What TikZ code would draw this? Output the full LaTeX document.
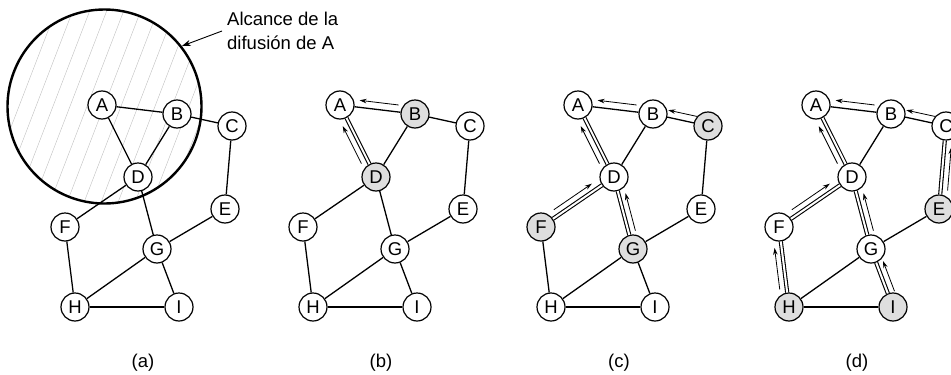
\documentclass[tikz,border=0pt]{standalone}
\usepackage{fontspec}
\setmainfont{Liberation Sans}
\usetikzlibrary{arrows.meta, calc}

\tikzset{
  stn/.style={draw, circle, line width=1.2pt, fill=white, minimum size=28pt, inner sep=0pt},
  lit/.style={fill=black!13},
  edge/.style={line width=1.3pt},
  trail/.style={double, double distance=2pt, line width=1.1pt},
  msgarrow/.style={line width=0.8pt, -{Stealth[length=7pt,width=4.5pt]}},
  hatch/.style={gray!50, line width=0.4pt},
  % nodes reached in each step
  bB/.style={lit}, bD/.style={lit},
  cC/.style={lit}, cF/.style={lit}, cG/.style={lit},
  dE/.style={lit}, dH/.style={lit}, dI/.style={lit},
  % links that carried the packet
  bAD/.style={trail},
  cAD/.style={trail}, cDF/.style={trail}, cDG/.style={trail},
  dAD/.style={trail}, dDF/.style={trail}, dDG/.style={trail},
  dFH/.style={trail}, dGI/.style={trail}, dCE/.style={trail},
}

\newcommand\msg[3]{\draw[msgarrow] ($(#1)!.23!(#2)!7pt!#3:(#2)$) -- ($(#1)!.75!(#2)!7pt!#3:(#2)$);}

\begin{document}
\begin{tikzpicture}[x=1pt, y=-1pt, font=\fontsize{18.5}{24}\selectfont]
  \useasboundingbox (0,0) rectangle (951,375);
  \clip (0,0) rectangle (951,375);
  % hatched reach of the broadcast
  \begin{scope}
    \clip (104.5,106.5) circle [radius=97pt];
    \foreach \k in {-9,...,9}
      \draw[hatch] (66+17*\k,205) -- (143+17*\k,5);
  \end{scope}
  \node[draw, circle, line width=2.4pt, minimum size=194pt, inner sep=0pt] (reach) at (104.5,106.5) {};
  \node[anchor=north west, align=left, inner sep=0pt] (note) at (227,12) {Alcance de la\\difusión de A};
  \draw[-{Stealth[length=9pt,width=6pt]}, line width=0.9pt] ([xshift=-5pt]note.west) -- (reach.38);

  \foreach \p/\dx in {a/0,b/238,c/476,d/714} {
    \begin{scope}[xshift=\dx pt]
      \foreach \n/\x/\y in {A/102/105,B/177/114,C/232/126,D/138/177,E/225/209,
                            F/65/227,G/157/249,H/75/307,I/179/307}
        \node[stn, \p\n/.try] (\p\n) at (\x,\y) {\n};
      \foreach \a/\b in {A/B,A/D,B/D,B/C,C/E,D/F,D/G,E/G,F/H,G/H,G/I,H/I}
        \draw[edge, \p\a\b/.try] (\p\a) -- (\p\b);
      \node (\p cap) at (143,363) {(\p)};
    \end{scope}
  }

  % packet copies on their way
  \foreach \p in {b,c,d} {\msg{\p B}{\p A}{-90} \msg{\p D}{\p A}{90}}
  \foreach \p in {c,d} {\msg{\p C}{\p B}{-90} \msg{\p F}{\p D}{90} \msg{\p G}{\p D}{-90}}
  \msg{dH}{dF}{90} \msg{dI}{dG}{-90} \msg{dE}{dC}{-90}
\end{tikzpicture}
\end{document}
